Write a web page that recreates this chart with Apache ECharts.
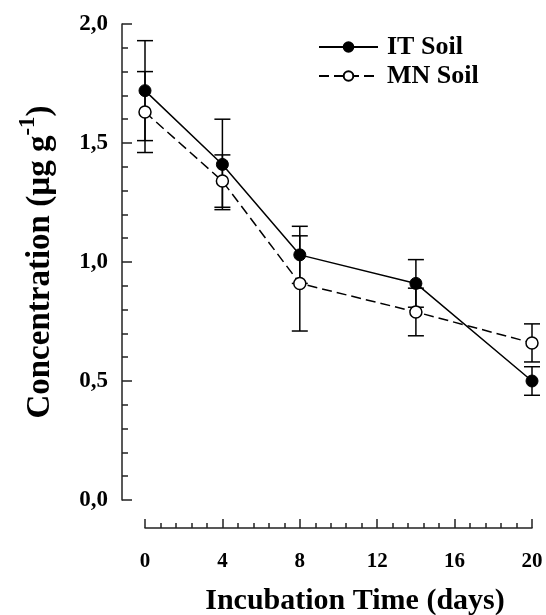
<!DOCTYPE html>
<html>
<head>
<meta charset="utf-8">
<script src="https://cdn.jsdelivr.net/npm/echarts@6/dist/echarts.min.js"></script>
<style>html,body{margin:0;padding:0;background:#fff}#c{width:546px;height:615px}</style>
</head>
<body>
<div id="c"></div>
<script>
var days = [0, 4, 8, 14, 20];
var itMean = [1.72, 1.41, 1.03, 0.91, 0.50];
var itErr = [0.21, 0.19, 0.12, 0.10, 0.06];
var mnMean = [1.63, 1.34, 0.91, 0.79, 0.66];
var mnErr = [0.17, 0.11, 0.20, 0.10, 0.08];
var seriesNames = ['IT Soil', 'MN Soil'];

var FONT = 'Liberation Serif';
function pts(mean) { return days.map(function (d, i) { return [d, mean[i]]; }); }
function errs(mean, err) { return days.map(function (d, i) { return [d, mean[i] - err[i], mean[i] + err[i]]; }); }
function renderErr(params, api) {
  var x = api.value(0);
  var lo = api.coord([x, api.value(1)]);
  var hi = api.coord([x, api.value(2)]);
  var w = 8;
  var st = { stroke: '#000', lineWidth: 1.5 };
  return {
    type: 'group',
    children: [
      { type: 'line', shape: { x1: lo[0], y1: lo[1], x2: hi[0], y2: hi[1] }, style: st },
      { type: 'line', shape: { x1: lo[0] - w, y1: lo[1], x2: lo[0] + w, y2: lo[1] }, style: st },
      { type: 'line', shape: { x1: hi[0] - w, y1: hi[1], x2: hi[0] + w, y2: hi[1] }, style: st }
    ]
  };
}

var chart = echarts.init(document.getElementById('c'), null, { renderer: 'canvas' });
var axisLine = { onZero: false, lineStyle: { color: '#222', width: 1.5 } };
chart.setOption({
  animation: false,
  backgroundColor: '#fff',
  grid: { left: 145, right: 14, top: 24, bottom: 115, containLabel: false, outerBoundsMode: 'none' },
  legend: {
    orient: 'vertical',
    left: 313,
    top: 29,
    itemGap: 3,
    itemWidth: 59,
    itemHeight: 12,
    data: seriesNames,
    textStyle: { fontFamily: FONT, fontWeight: 'bold', fontSize: 26, color: '#000', padding: [0, 0, 0, 4], lineHeight: 24 }
  },
  xAxis: {
    type: 'value', min: 0, max: 20, interval: 4,
    offset: 28,
    axisLine: axisLine,
    axisTick: { inside: true, length: 9, lineStyle: { color: '#222', width: 1.5 } },
    minorTick: { show: true, splitNumber: 5, length: 5, lineStyle: { color: '#222', width: 1.5 } },
    splitLine: { show: false },
    axisLabel: { margin: 23, fontFamily: FONT, fontWeight: 'bold', fontSize: 21, color: '#000' },
    name: 'Incubation Time (days)',
    nameLocation: 'middle',
    nameGap: 58,
    nameTextStyle: { fontFamily: FONT, fontWeight: 'bold', fontSize: 30, color: '#000', padding: [0, 0, 0, 33] }
  },
  yAxis: {
    type: 'value', min: 0, max: 2, interval: 0.5,
    offset: 23,
    axisLine: axisLine,
    axisTick: { inside: true, length: 10, lineStyle: { color: '#222', width: 1.5 } },
    minorTick: { show: true, splitNumber: 5, length: 6, lineStyle: { color: '#222', width: 1.5 } },
    splitLine: { show: false },
    axisLabel: {
      margin: 14, fontFamily: FONT, fontWeight: 'bold', fontSize: 23, color: '#000',
      formatter: function (v) { return v.toFixed(1).replace('.', ','); }
    },
    name: '{m|Concentration (µg g}{s|-1}{m|)}',
    nameLocation: 'middle',
    nameGap: 65,
    nameTextStyle: {
      rich: {
        m: { fontFamily: FONT, fontWeight: 'bold', fontSize: 33, color: '#000', lineHeight: 40, verticalAlign: 'bottom' },
        s: { fontFamily: FONT, fontWeight: 'bold', fontSize: 23, color: '#000', lineHeight: 40, verticalAlign: 'top' }
      }
    }
  },
  series: [
    { type: 'custom', name: 'itErr', data: errs(itMean, itErr), renderItem: renderErr, z: 1, silent: true },
    { type: 'custom', name: 'mnErr', data: errs(mnMean, mnErr), renderItem: renderErr, z: 1, silent: true },
    {
      type: 'line', name: seriesNames[0], data: pts(itMean), z: 3,
      symbol: 'circle', symbolSize: 12,
      lineStyle: { color: '#000', width: 1.5 },
      itemStyle: { color: '#000', borderColor: '#000', borderWidth: 1 }
    },
    {
      type: 'line', name: seriesNames[1], data: pts(mnMean), z: 4,
      symbol: 'circle', symbolSize: 12,
      lineStyle: { color: '#000', width: 1.5, type: [10, 5] },
      itemStyle: { color: '#fff', borderColor: '#000', borderWidth: 1.5 }
    }
  ]
});
</script>
</body>
</html>
